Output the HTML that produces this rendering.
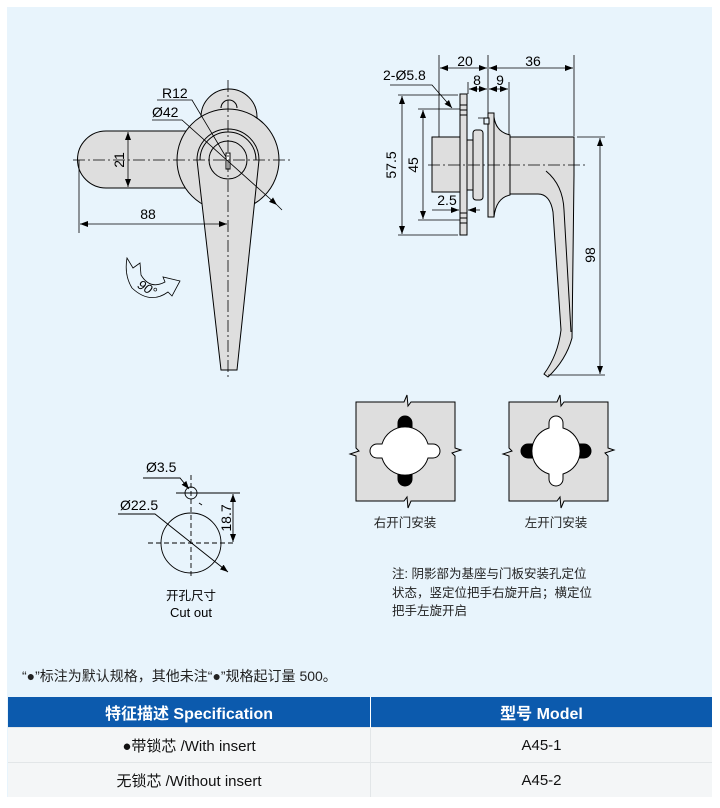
<!DOCTYPE html>
<html><head><meta charset="utf-8"><style>
html,body{margin:0;padding:0;background:#fff;}
body{width:720px;height:808px;position:relative;overflow:hidden;font-family:"Liberation Sans","Noto Sans CJK SC",sans-serif;}
.bg{position:absolute;left:7px;top:7px;width:705px;height:790px;background:#e8f4fc;}
svg{position:absolute;left:0;top:0;}
.note{position:absolute;left:22px;top:666px;font-size:14px;color:#222;}
table{position:absolute;left:8px;top:697px;width:704px;border-collapse:collapse;font-size:15px;}
th{background:#0c5aad;color:#fff;height:30px;font-weight:bold;font-size:16px;padding:0;}
td{background:#f4f6f7;height:34px;text-align:center;color:#111;padding:0;border-top:1px solid #e2e6e8;}
.c1{width:362px;border-right:1px solid #fff;}
td.c1{border-right:1px solid #e2e6e8;}
</style></head><body>
<div class="bg"></div>
<svg width="720" height="808" viewBox="0 0 720 808" font-family="Liberation Sans, Noto Sans CJK SC, sans-serif">
<defs>
<marker id="a" markerWidth="8" markerHeight="6" refX="8" refY="3" orient="auto" markerUnits="userSpaceOnUse"><path d="M0,0 L8,3 L0,6z" fill="#000"/></marker>
<marker id="b" markerWidth="8" markerHeight="6" refX="0" refY="3" orient="auto" markerUnits="userSpaceOnUse"><path d="M8,0 L0,3 L8,6z" fill="#000"/></marker>
</defs>
<g stroke="#000" stroke-width="1" fill="#dedede">
<path d="M106,131 H200 V188 H106 A28.5,28.5 0 0 1 106,131z"/>
<circle cx="229" cy="117" r="28"/>
<circle cx="228" cy="160" r="51"/>
<path d="M221,108 A8,8 0 0 1 237,108" fill="none"/>
<path d="M197,160 A31,31 0 0 1 259,160 L237,370 H221z"/>
<path d="M200,160 A28,28 0 0 1 256,160" fill="none"/>
<circle cx="228" cy="160" r="19" fill="none"/>
<rect x="226" y="153" width="4" height="16" fill="#fff"/>
</g>
<g stroke="#000" stroke-width="0.8" fill="none">
<path d="M73,160 H290 M228,80 V378" stroke-dasharray="12,3,2,3"/>
<line x1="128" y1="132" x2="128" y2="187" marker-start="url(#b)" marker-end="url(#a)"/>
<line x1="79" y1="160" x2="79" y2="233"/>
<line x1="80" y1="224" x2="227" y2="224" marker-start="url(#b)" marker-end="url(#a)"/>
<path d="M157,100 H192 L226,157"/>
<path d="M152,120 H182 L277,205" marker-end="url(#a)"/>
<line x1="277" y1="205" x2="282" y2="210"/>
<path d="M127,258 L133,268 L140,263 L141,275 Q150,290 165,282 L163,277 L180,281 L172,296 L168,292 Q150,305 132,288 Q124,275 127,258z" fill="#e8f4fc"/>
</g>
<text x="162" y="98" font-size="14">R12</text>
<text x="152" y="117" font-size="14">Ø42</text>
<text x="0" y="0" font-size="14" transform="translate(124,160) rotate(-90)" text-anchor="middle">21</text>
<text x="148" y="219" font-size="14" text-anchor="middle">88</text>
<text x="0" y="0" font-size="13" font-style="italic" transform="translate(145,292) rotate(30)" text-anchor="middle">90°</text>

<g stroke="#000" stroke-width="1" fill="#dedede">
<rect x="432" y="137" width="28" height="55"/>
<rect x="467" y="140" width="6" height="50"/>
<rect x="473" y="130" width="10" height="70" rx="3"/>
<rect x="460" y="94" width="7" height="141"/>
<path d="M494,117 Q496,132 510,135 V195 Q496,198 494,217z"/>
<rect x="488" y="113" width="6" height="104"/>
<rect x="484" y="118" width="5" height="6" fill="#e8f4fc"/>
<path d="M510,137 H574 V175 L572,338 Q566,360 548,377 L544,374 Q558,355 561,330 L553,212 Q550,194 538,194 H510z"/>
<path d="M546,171 Q563,185 564,210 L571,332" fill="none"/>
<path d="M460,105 H467 M460,110 H467 M460,115 H467 M460,213 H467 M460,218 H467 M460,223 H467" fill="none"/>
</g>
<g stroke="#000" stroke-width="0.8" fill="none">
<path d="M428,165 H587" stroke-dasharray="12,3,2,3"/>
<path d="M439,55 V137 M488,55 V113 M509,82 V135 M574,55 V136 M468,82 V94 M478,118 H485"/>
<line x1="440" y1="68" x2="487" y2="68" marker-start="url(#b)" marker-end="url(#a)"/>
<line x1="489" y1="68" x2="573" y2="68" marker-start="url(#b)" marker-end="url(#a)"/>
<line x1="469" y1="89" x2="487" y2="89" marker-start="url(#b)" marker-end="url(#a)"/>
<line x1="489" y1="89" x2="508" y2="89" marker-start="url(#b)" marker-end="url(#a)"/>
<path d="M390,85 H432 L452,108" marker-end="url(#a)"/>
<path d="M398,95 H458 M398,235 H458 M418,109 H460 M418,220 H460 M577,137 H605 M548,375 H605"/>
<line x1="402" y1="96" x2="402" y2="234" marker-start="url(#b)" marker-end="url(#a)"/>
<line x1="423" y1="110" x2="423" y2="219" marker-start="url(#b)" marker-end="url(#a)"/>
<line x1="432" y1="210" x2="459" y2="210" marker-end="url(#a)"/>
<line x1="480" y1="210" x2="468" y2="210" marker-end="url(#a)"/>
<line x1="600" y1="138" x2="600" y2="374" marker-start="url(#b)" marker-end="url(#a)"/>
</g>
<g font-size="14">
<text x="465" y="66" text-anchor="middle">20</text>
<text x="533" y="66" text-anchor="middle">36</text>
<text x="477" y="85" text-anchor="middle">8</text>
<text x="500" y="85" text-anchor="middle">9</text>
<text x="383" y="80">2-Ø5.8</text>
<text x="447" y="205" text-anchor="middle">2.5</text>
<text transform="translate(396,165) rotate(-90)" text-anchor="middle">57.5</text>
<text transform="translate(418,165) rotate(-90)" text-anchor="middle">45</text>
<text transform="translate(595,255) rotate(-90)" text-anchor="middle">98</text>
</g>

<g stroke="#000" stroke-width="1">
<path d="M356,402 H404 L407,395 L408,406 L411,402 H455 V448 L461,450 L452,453 L455,456 V501 H411 L408,508 L407,497 L404,501 H356 V456 L350,454 L359,451 L356,448z" fill="#dedede"/>
<path d="M509,402 H557 L560,395 L561,406 L564,402 H608 V448 L614,450 L605,453 L608,456 V501 H564 L561,508 L560,497 L557,501 H509 V456 L503,454 L512,451 L509,448z" fill="#dedede"/>
<rect x="398" y="416" width="14" height="70" rx="7" fill="#000"/>
<path d="M428,444 H433 A7,7 0 0 1 433,458 H428 A24,24 0 0 1 382,458 H377 A7,7 0 0 1 377,444 H382 A24,24 0 0 1 428,444z" fill="#fff"/>
<rect x="521" y="444" width="70" height="14" rx="7" fill="#000"/>
<path d="M549,428 V423 A7,7 0 0 1 563,423 V428 A24,24 0 0 1 563,474 V479 A7,7 0 0 1 549,479 V474 A24,24 0 0 1 549,428z" fill="#fff"/>
</g>
<g font-size="12.5" fill="#222">
<text x="405" y="527" text-anchor="middle">右开门安装</text>
<text x="556" y="527" text-anchor="middle">左开门安装</text>
<text x="392" y="578">注:  阴影部为基座与门板安装孔定位</text>
<text x="392" y="597">状态，竖定位把手右旋开启；横定位</text>
<text x="392" y="615">把手左旋开启</text>
</g>

<g stroke="#000" stroke-width="0.9" fill="none">
<circle cx="191" cy="493" r="6"/>
<circle cx="191" cy="543" r="30"/>
<path d="M191,475 V578 M148,543 H236" stroke-dasharray="5,3"/>
<path d="M176,493 H240"/>
<path d="M143,478 H180 L189,489" marker-end="url(#a)"/>
<path d="M118,514 H155 L228,572" marker-end="url(#a)"/>
<line x1="233" y1="494" x2="233" y2="542" marker-start="url(#b)" marker-end="url(#a)"/>
<path d="M199,503 L202,505"/>
</g>
<g font-size="14">
<text x="146" y="472">Ø3.5</text>
<text x="120" y="510">Ø22.5</text>
<text transform="translate(231,518) rotate(-90)" text-anchor="middle">18.7</text>
</g>
<text x="191" y="600" font-size="12.5" text-anchor="middle">开孔尺寸</text>
<text x="191" y="617" font-size="13" text-anchor="middle">Cut out</text>
</svg>
<div class="note">“●”标注为默认规格，其他未注“●”规格起订量 500。</div>
<table>
<tr><th class="c1">特征描述 Specification</th><th>型号 Model</th></tr>
<tr><td class="c1">●带锁芯 /With insert</td><td>A45-1</td></tr>
<tr><td class="c1">无锁芯 /Without insert</td><td>A45-2</td></tr>
</table>
</body></html>
